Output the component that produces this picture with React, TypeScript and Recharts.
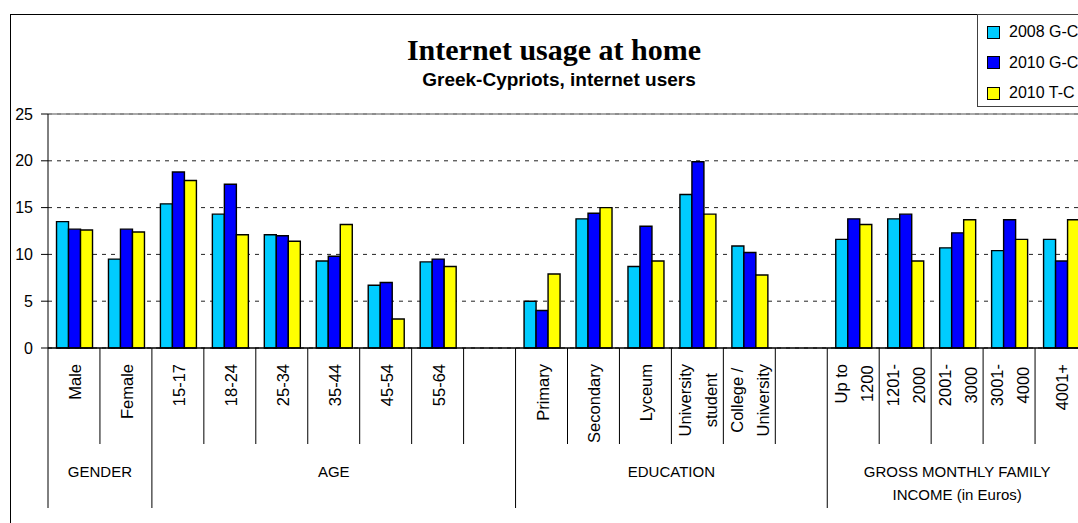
import { Bar, BarChart, CartesianGrid, Legend, ReferenceLine, XAxis, YAxis } from "recharts";

// categories (blank entries are the gaps between groups), "\n" = line break in the label
const categories = [
  "Male",
  "Female",
  "15-17",
  "18-24",
  "25-34",
  "35-44",
  "45-54",
  "55-64",
  "",
  "Primary",
  "Secondary",
  "Lyceum",
  "University\nstudent",
  "College /\nUniversity",
  "",
  "Up to\n1200",
  "1201-\n2000",
  "2001-\n3000",
  "3001-\n4000",
  "4001+"
];

const groupNames = ["GENDER", "AGE", "EDUCATION", "GROSS MONTHLY FAMILY\nINCOME (in Euros)"];
const groupSizes = [2, 7, 6, 5];

const gc2008 = [13.5, 9.5, 15.4, 14.3, 12.1, 9.3, 6.7, 9.2, null, 5.0, 13.8, 8.7, 16.4, 10.9, null, 11.6, 13.8, 10.7, 10.4, 11.6];
const gc2010 = [12.7, 12.7, 18.8, 17.5, 12.0, 9.8, 7.0, 9.5, null, 4.0, 14.4, 13.0, 19.9, 10.2, null, 13.8, 14.3, 12.3, 13.7, 9.3];
const tc2010 = [12.6, 12.4, 17.9, 12.1, 11.4, 13.2, 3.1, 8.7, null, 7.9, 15.0, 9.3, 14.3, 7.8, null, 13.2, 9.3, 13.7, 11.6, 13.7];

const yTicks = [0, 5, 10, 15, 20, 25];

const data = categories.map((label, i) => ({
  key: `c${i}`,
  label,
  gc2008: gc2008[i],
  gc2010: gc2010[i],
  tc2010: tc2010[i]
}));

const groupStarts = groupSizes.map((_, g) => groupSizes.slice(0, g).reduce((a, b) => a + b, 0));

// layout
const W = 1100;
const H = 523;
const MARGIN = { top: 114, right: 13, bottom: 15, left: 0 };
const Y_AXIS_W = 48;
const X_AXIS_H = 160;
const PLOT_W = W - MARGIN.left - Y_AXIS_W - MARGIN.right;
const PLOT_BOTTOM = H - MARGIN.bottom - X_AXIS_H;
const BAND = PLOT_W / categories.length;

const SANS = '"Liberation Sans", Arial, sans-serif';
const SERIF = '"Liberation Serif", "Times New Roman", serif';
const CAT_FONT = 16.5;
const GROUP_FONT = 15;

let measureCtx: CanvasRenderingContext2D | null = null;
function textWidth(s: string, font: string) {
  if (!measureCtx) measureCtx = document.createElement("canvas").getContext("2d");
  if (!measureCtx) return s.length * 8;
  measureCtx.font = font;
  return measureCtx.measureText(s).width;
}

function CategoryTick(props: any) {
  const { x, payload } = props;
  const i = Number(String(payload.value).slice(1));
  const left = x - BAND / 2;
  const gi = groupStarts.indexOf(i);
  const lines = categories[i] ? categories[i].split("\n") : [];
  const labelTop = PLOT_BOTTOM + 16;
  const shortEnd = PLOT_BOTTOM + 96;
  const longEnd = PLOT_BOTTOM + 160;

  let texts: JSX.Element[] = [];
  if (lines.length === 1) {
    const bx = x + 7;
    texts = [
      <text key="t0" x={bx} y={labelTop} transform={`rotate(-90 ${bx} ${labelTop})`} textAnchor="end"
        fontFamily={SANS} fontSize={CAT_FONT} fill="#000">{lines[0]}</text>
    ];
  } else if (lines.length > 1) {
    const maxW = Math.max(...lines.map((l) => textWidth(l, `${CAT_FONT}px ${SANS}`)));
    const cy = labelTop + maxW / 2;
    const offs = [-6, 19.5];
    texts = lines.map((l, k) => {
      const bx = x + offs[k];
      return (
        <text key={`t${k}`} x={bx} y={cy} transform={`rotate(-90 ${bx} ${cy})`} textAnchor="middle"
          fontFamily={SANS} fontSize={CAT_FONT} fill="#000">{l}</text>
      );
    });
  }

  let group: JSX.Element | null = null;
  if (gi >= 0) {
    const gx = left + (groupSizes[gi] * BAND) / 2;
    group = (
      <g>
        {groupNames[gi].split("\n").map((l, k) => (
          <text key={k} x={gx} y={PLOT_BOTTOM + 129 + k * 23} textAnchor="middle"
            fontFamily={SANS} fontSize={GROUP_FONT} fill="#000">{l}</text>
        ))}
      </g>
    );
  }

  return (
    <g>
      <line x1={left} x2={left} y1={PLOT_BOTTOM} y2={gi >= 0 ? longEnd : shortEnd} stroke="#000" strokeWidth={1} />
      {i === categories.length - 1 && (
        <line x1={left + BAND} x2={left + BAND} y1={PLOT_BOTTOM} y2={longEnd} stroke="#000" strokeWidth={1} />
      )}
      {texts}
      {group}
    </g>
  );
}

function LegendBox(props: any) {
  const { payload } = props;
  return (
    <div style={{ border: "1px solid #404040", background: "#fff", width: 200, height: 93, paddingTop: 2, boxSizing: "border-box" }}>
      {(payload || []).map((entry: any) => (
        <div key={entry.value} style={{ height: 30.5, display: "flex", alignItems: "center" }}>
          <span style={{ width: 13, height: 13, border: "1px solid #000", background: entry.color, marginLeft: 9, marginRight: 9, boxSizing: "border-box", flex: "none" }} />
          <span style={{ fontFamily: SANS, fontSize: 16, color: "#000", whiteSpace: "nowrap" }}>{entry.value}</span>
        </div>
      ))}
    </div>
  );
}

export default function App() {
  return (
    <div style={{ position: "fixed", left: 0, top: 0, width: 1078, height: 523, overflow: "hidden", background: "#fff" }}>
      <BarChart width={W} height={H} data={data} margin={MARGIN} barCategoryGap="16.4%" barGap={0}>
        <rect x={10.5} y={14.5} width={2000} height={2000} fill="none" stroke="#000" strokeWidth={1} />
        <text x={554} y={60} textAnchor="middle" fontFamily={SERIF} fontWeight="bold" fontSize={30} fill="#000">
          Internet usage at home
        </text>
        <text x={559} y={86} textAnchor="middle" fontFamily={SANS} fontWeight="bold" fontSize={19} fill="#000">
          Greek-Cypriots, internet users
        </text>
        <CartesianGrid vertical={false} stroke="#222" strokeDasharray="4 5" />
        <XAxis
          dataKey="key"
          interval={0}
          height={X_AXIS_H}
          tickLine={false}
          axisLine={{ stroke: "#000" }}
          tick={<CategoryTick />}
        />
        <YAxis
          width={Y_AXIS_W}
          domain={[0, 25]}
          ticks={yTicks}
          tickSize={7}
          tickMargin={8}
          axisLine={{ stroke: "#000" }}
          tickLine={{ stroke: "#000" }}
          tick={{ fontSize: 16, fill: "#000", fontFamily: SANS }}
        />
        <ReferenceLine y={25} stroke="#8c8c8c" strokeWidth={1.5} />
        <ReferenceLine y={0} stroke="#000" strokeWidth={1.2} />
        <Legend
          layout="horizontal"
          verticalAlign="middle"
          align="center"
          content={<LegendBox />}
          wrapperStyle={{ left: 977, top: 14, width: 200 }}
        />
        <Bar dataKey="gc2008" name="2008 G-C" fill="#00CCFF" stroke="#000" strokeWidth={1.4} isAnimationActive={false} />
        <Bar dataKey="gc2010" name="2010 G-C" fill="#0000FF" stroke="#000" strokeWidth={1.4} isAnimationActive={false} />
        <Bar dataKey="tc2010" name="2010 T-C" fill="#FFFF00" stroke="#000" strokeWidth={1.4} isAnimationActive={false} />
      </BarChart>
    </div>
  );
}
